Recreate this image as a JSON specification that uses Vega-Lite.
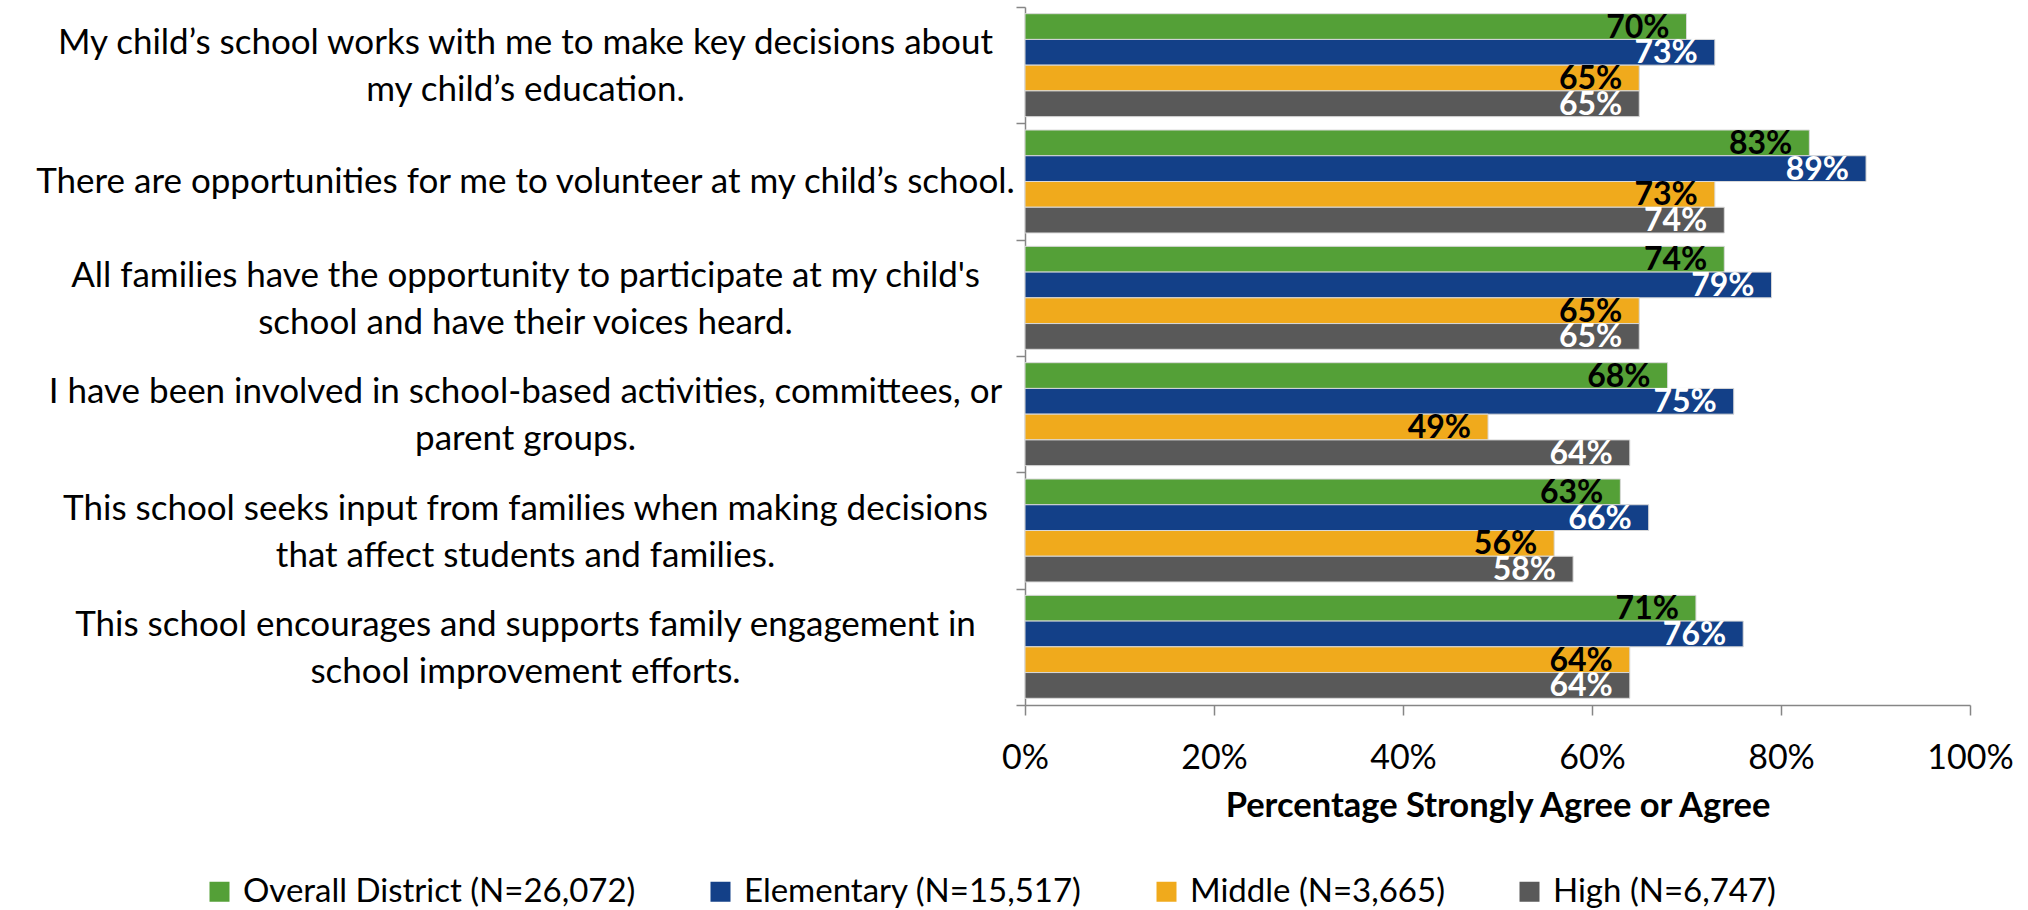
{
  "$schema": "https://vega.github.io/schema/vega-lite/v6.json",
  "width": 945,
  "height": 698,
  "autosize": {"type": "none"},
  "padding": {"left": 1025, "top": 7, "right": 58, "bottom": 205},
  "background": "white",
  "config": {"font": "Lato", "view": {"stroke": null}},
  "data": {
    "values": [
      {"question": "My child’s school works with me to make key decisions about\nmy child’s education.", "group": "Overall District (N=26,072)", "value": 0.70},
      {"question": "My child’s school works with me to make key decisions about\nmy child’s education.", "group": "Elementary (N=15,517)", "value": 0.73},
      {"question": "My child’s school works with me to make key decisions about\nmy child’s education.", "group": "Middle (N=3,665)", "value": 0.65},
      {"question": "My child’s school works with me to make key decisions about\nmy child’s education.", "group": "High (N=6,747)", "value": 0.65},
      {"question": "There are opportunities for me to volunteer at my child’s school.", "group": "Overall District (N=26,072)", "value": 0.83},
      {"question": "There are opportunities for me to volunteer at my child’s school.", "group": "Elementary (N=15,517)", "value": 0.89},
      {"question": "There are opportunities for me to volunteer at my child’s school.", "group": "Middle (N=3,665)", "value": 0.73},
      {"question": "There are opportunities for me to volunteer at my child’s school.", "group": "High (N=6,747)", "value": 0.74},
      {"question": "All families have the opportunity to participate at my child's\nschool and have their voices heard.", "group": "Overall District (N=26,072)", "value": 0.74},
      {"question": "All families have the opportunity to participate at my child's\nschool and have their voices heard.", "group": "Elementary (N=15,517)", "value": 0.79},
      {"question": "All families have the opportunity to participate at my child's\nschool and have their voices heard.", "group": "Middle (N=3,665)", "value": 0.65},
      {"question": "All families have the opportunity to participate at my child's\nschool and have their voices heard.", "group": "High (N=6,747)", "value": 0.65},
      {"question": "I have been involved in school-based activities, committees, or\nparent groups.", "group": "Overall District (N=26,072)", "value": 0.68},
      {"question": "I have been involved in school-based activities, committees, or\nparent groups.", "group": "Elementary (N=15,517)", "value": 0.75},
      {"question": "I have been involved in school-based activities, committees, or\nparent groups.", "group": "Middle (N=3,665)", "value": 0.49},
      {"question": "I have been involved in school-based activities, committees, or\nparent groups.", "group": "High (N=6,747)", "value": 0.64},
      {"question": "This school seeks input from families when making decisions\nthat affect students and families.", "group": "Overall District (N=26,072)", "value": 0.63},
      {"question": "This school seeks input from families when making decisions\nthat affect students and families.", "group": "Elementary (N=15,517)", "value": 0.66},
      {"question": "This school seeks input from families when making decisions\nthat affect students and families.", "group": "Middle (N=3,665)", "value": 0.56},
      {"question": "This school seeks input from families when making decisions\nthat affect students and families.", "group": "High (N=6,747)", "value": 0.58},
      {"question": "This school encourages and supports family engagement in\nschool improvement efforts.", "group": "Overall District (N=26,072)", "value": 0.71},
      {"question": "This school encourages and supports family engagement in\nschool improvement efforts.", "group": "Elementary (N=15,517)", "value": 0.76},
      {"question": "This school encourages and supports family engagement in\nschool improvement efforts.", "group": "Middle (N=3,665)", "value": 0.64},
      {"question": "This school encourages and supports family engagement in\nschool improvement efforts.", "group": "High (N=6,747)", "value": 0.64}
    ]
  },
  "encoding": {
    "y": {
      "field": "question",
      "type": "nominal",
      "sort": null,
      "scale": {"paddingInner": 0, "paddingOuter": 0},
      "axis": {
        "title": null,
        "labelExpr": "split(datum.label, '\\n')",
        "labelAlign": "center",
        "labelPadding": 491,
        "labelOffset": {"condition": {"test": "isString(datum.value) && indexof(datum.value, '\\n') >= 0", "value": -22.5}, "value": 0},
        "labelLimit": 0,
        "labelFontSize": 35,
        "labelLineHeight": 47,
        "labelColor": "black",
        "tickBand": "extent",
        "tickSize": 9,
        "tickColor": "#868686",
        "tickWidth": 1.5,
        "domainColor": "#868686",
        "domainWidth": 1.5
      }
    },
    "yOffset": {
      "field": "group",
      "sort": ["Overall District (N=26,072)", "Elementary (N=15,517)", "Middle (N=3,665)", "High (N=6,747)"],
      "scale": {"paddingOuter": 0.26, "paddingInner": 0}
    },
    "x": {
      "field": "value",
      "type": "quantitative",
      "scale": {"domain": [0, 1]},
      "axis": {
        "values": [0, 0.2, 0.4, 0.6, 0.8, 1],
        "format": ".0%",
        "grid": false,
        "labelFlush": false,
        "labelFontSize": 34,
        "labelColor": "black",
        "labelPadding": 26,
        "tickSize": 10,
        "tickColor": "#868686",
        "tickWidth": 1.5,
        "domainColor": "#868686",
        "domainWidth": 1.5,
        "title": "Percentage Strongly Agree or Agree",
        "titleFontSize": 34.5,
        "titleFontWeight": "bold",
        "titleColor": "black",
        "titlePadding": 14
      }
    }
  },
  "layer": [
    {
      "mark": {"type": "bar", "stroke": "#d9d9d9", "strokeWidth": 1},
      "encoding": {
        "color": {
          "field": "group",
          "type": "nominal",
          "scale": {
            "domain": ["Overall District (N=26,072)", "Elementary (N=15,517)", "Middle (N=3,665)", "High (N=6,747)"],
            "range": ["#54A037", "#134088", "#F0AA1C", "#595959"]
          },
          "legend": {
            "orient": "none",
            "legendX": -822,
            "legendY": 868,
            "direction": "horizontal",
            "columns": 4,
            "title": null,
            "symbolType": "square",
            "symbolSize": 400,
            "symbolStrokeWidth": 0,
            "symbolOpacity": 1,
            "labelFontSize": 33,
            "labelColor": "black",
            "labelOffset": 7,
            "labelLimit": 0,
            "columnPadding": 68,
            "padding": 0
          }
        }
      }
    },
    {
      "mark": {"type": "text", "align": "right", "baseline": "middle", "dx": -17, "dy": 1, "fontSize": 32, "fontWeight": "bold"},
      "encoding": {
        "text": {"field": "value", "type": "quantitative", "format": ".0%"},
        "color": {
          "condition": {"test": "datum.group === 'Elementary (N=15,517)' || datum.group === 'High (N=6,747)'", "value": "white"},
          "value": "black"
        }
      }
    }
  ]
}
